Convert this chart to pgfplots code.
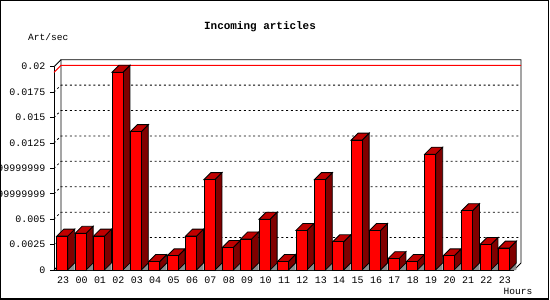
\documentclass[border=0pt]{standalone}
\usepackage{fontspec}
\setmainfont{Liberation Mono}
\usepackage{pgfplots}
\usepackage{pgfplotstable}
\pgfplotsset{compat=1.18}
\definecolor{barfront}{RGB}{255,0,0}
\definecolor{bartop}{RGB}{192,0,0}
\definecolor{barside}{RGB}{128,0,0}
\definecolor{shadowgray}{RGB}{140,140,140}
\pgfdeclareplotmark{bar3d}{%
  \pgfmathsetmacro\h{\yv*10165}%
  \pgfmathsetmacro\hb{7-\h}%
  \pgfsetlinewidth{0.8bp}%
  \pgfsetstrokecolor{black}%
  % floor shadow
  \pgfpathmoveto{\pgfpoint{4.5bp}{-\h bp}}%
  \pgfpathlineto{\pgfpoint{11.5bp}{\hb bp}}%
  \pgfpathlineto{\pgfpoint{11.5bp}{-\h bp}}%
  \pgfpathclose
  \pgfsetfillcolor{shadowgray}\pgfusepath{fill}%
  % side face
  \pgfpathmoveto{\pgfpoint{4.5bp}{-\h bp}}%
  \pgfpathlineto{\pgfpoint{4.5bp}{0bp}}%
  \pgfpathlineto{\pgfpoint{11.5bp}{7bp}}%
  \pgfpathlineto{\pgfpoint{11.5bp}{\hb bp}}%
  \pgfpathclose
  \pgfsetfillcolor{barside}\pgfusepath{fill,stroke}%
  % top face
  \pgfpathmoveto{\pgfpoint{-6.5bp}{0bp}}%
  \pgfpathlineto{\pgfpoint{4.5bp}{0bp}}%
  \pgfpathlineto{\pgfpoint{11.5bp}{7bp}}%
  \pgfpathlineto{\pgfpoint{0.5bp}{7bp}}%
  \pgfpathclose
  \pgfsetfillcolor{bartop}\pgfusepath{fill,stroke}%
  % front face
  \pgfpathrectangle{\pgfpoint{-6.5bp}{-\h bp}}{\pgfpoint{11bp}{\h bp}}%
  \pgfsetfillcolor{barfront}\pgfusepath{fill,stroke}%
}
\pgfplotstableread{
x v
0.5 0.003333
1.5 0.003611
2.5 0.003333
3.5 0.019444
4.5 0.013611
5.5 0.000833
6.5 0.001389
7.5 0.003333
8.5 0.008889
9.5 0.002222
10.5 0.003056
11.5 0.005000
12.5 0.000833
13.5 0.003889
14.5 0.008889
15.5 0.002778
16.5 0.012778
17.5 0.003889
18.5 0.001111
19.5 0.000833
20.5 0.011389
21.5 0.001389
22.5 0.005833
23.5 0.002500
24.5 0.002150
}\data
\begin{document}
\begin{tikzpicture}
\useasboundingbox (0,0) rectangle (550bp,300bp);
\fill[white] (0,0) rectangle (550bp,300bp);
\draw[line width=1.2bp] (0.6bp,1bp) rectangle (548.4bp,299.4bp);
\begin{axis}[
  at={(54bp,30bp)}, anchor=south west,
  scale only axis, width=460bp, height=203.3bp,
  xmin=0, xmax=25, ymin=0, ymax=0.02,
  clip=false,
  scaled y ticks=false,
  axis x line*=bottom, axis y line*=left,
  axis line style={line width=1bp, -},
  tick align=outside,
  xtick={0.5,1.5,...,24.5},
  xticklabels={23,00,01,02,03,04,05,06,07,08,09,10,11,12,13,14,15,16,17,18,19,20,21,22,23},
  xtick style={draw=none},
  minor xtick={0,1,...,25},
  minor tick length=4bp,
  minor x tick style={line width=0.8bp, black},
  ytick={0,0.0025,0.005,0.0075,0.01,0.0125,0.015,0.0175,0.02},
  yticklabels={0,0.0025,0.005,0.00749999999999,0.00999999999999,0.0125,0.015,0.0175,0.02},
  major tick length=4bp,
  ytick style={line width=0.8bp, black},
  ticklabel style={font=\fontsize{10}{12}\selectfont, inner sep=0pt},
  yticklabel style={anchor=east, xshift=-4.5bp},
  xticklabel style={anchor=north, yshift=-2.5bp},
]
% back wall and grid
\pgfplotsinvokeforeach{0.0025,0.005,0.0075,0.01,0.0125,0.015,0.0175}{
  \draw[line width=0.8bp, dash pattern=on 2bp off 2.7bp] (axis cs:0,#1) -- ([shift={(7bp,7bp)}]axis cs:0,#1) -- ([shift={(7bp,7bp)}]axis cs:25,#1);
}
\draw[line width=0.8bp] (axis cs:0,0) -- ([shift={(7bp,7bp)}]axis cs:0,0) -- ([shift={(7bp,7bp)}]axis cs:0,0.02) -- ([shift={(7bp,7bp)}]axis cs:25,0.02) -- ([shift={(7bp,7bp)}]axis cs:25,0) -- (axis cs:25,0);
\draw[line width=0.8bp] (axis cs:0,0.02) -- ([shift={(7bp,7bp)}]axis cs:0,0.02);
\draw[red, line width=1bp] (axis cs:0,0.019444) -- ([shift={(7bp,7bp)}]axis cs:0,0.019444) -- ([shift={(7bp,7bp)}]axis cs:25,0.019444);
\addplot[only marks, mark=bar3d, visualization depends on={rawy \as \yv}] table[x=x,y=v]{\data};
\end{axis}
\node[font=\fontsize{11}{13}\selectfont\bfseries] at (260bp,273.3bp) {Incoming articles};
\node[anchor=west, inner sep=0pt, font=\fontsize{9.6}{11}\selectfont] at (28bp,262.7bp) {Art/sec};
\node[inner sep=0pt, font=\fontsize{9.6}{11}\selectfont] at (518bp,8.3bp) {Hours};
\end{tikzpicture}
\end{document}
